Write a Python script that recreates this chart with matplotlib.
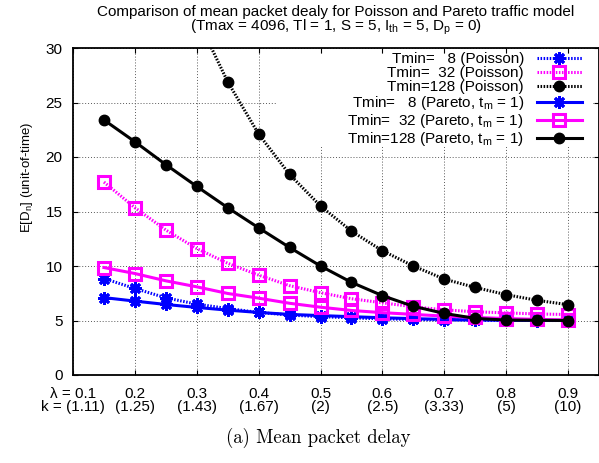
import matplotlib
matplotlib.use("Agg")
import matplotlib.pyplot as plt
from matplotlib.patches import Rectangle

plt.rcParams['font.family'] = ['Liberation Sans', 'DejaVu Sans']
plt.rcParams['mathtext.fontset'] = 'custom'
plt.rcParams['mathtext.rm'] = 'Liberation Sans'
plt.rcParams['mathtext.it'] = 'Liberation Sans:italic'
plt.rcParams['mathtext.bf'] = 'Liberation Sans:bold'

# ---------------- data ----------------
lam = [0.15, 0.2, 0.25, 0.3, 0.35, 0.4, 0.45, 0.5, 0.55, 0.6, 0.65, 0.7, 0.75, 0.8, 0.85, 0.9]
lam_p128 = [0.3, 0.35, 0.4, 0.45, 0.5, 0.55, 0.6, 0.65, 0.7, 0.75, 0.8, 0.85, 0.9]

poisson_8 = [8.85, 7.94, 7.08, 6.5, 6.1, 5.74, 5.5, 5.35, 5.25, 5.15, 5.1, 5.05, 5.03, 5.01, 5.0, 5.0]
poisson_32 = [17.7, 15.35, 13.3, 11.6, 10.25, 9.16, 8.2, 7.55, 7.0, 6.62, 6.26, 5.98, 5.8, 5.7, 5.6, 5.55]
poisson_128 = [32.8, 26.9, 22.1, 18.4, 15.5, 13.2, 11.4, 10.0, 8.8, 8.03, 7.37, 6.85, 6.45]
pareto_8 = [7.1, 6.78, 6.47, 6.2, 5.95, 5.74, 5.56, 5.45, 5.35, 5.25, 5.17, 5.1, 5.05, 5.03, 5.01, 5.0]
pareto_32 = [9.86, 9.31, 8.64, 8.09, 7.48, 7.05, 6.58, 6.22, 5.92, 5.72, 5.56, 5.4, 5.28, 5.18, 5.1, 5.05]
pareto_128 = [23.4, 21.4, 19.3, 17.3, 15.35, 13.5, 11.7, 10.0, 8.5, 7.28, 6.3, 5.65, 5.19, 5.04, 5.02, 5.0]

xticks = [0.1, 0.2, 0.3, 0.4, 0.5, 0.6, 0.7, 0.8, 0.9]
xticklabels = ["λ = 0.1\nk = (1.11)", "0.2\n(1.25)", "0.3\n(1.43)", "0.4\n(1.67)",
               "0.5\n(2)", "0.6\n(2.5)", "0.7\n(3.33)", "0.8\n(5)", "0.9\n(10)"]
yticks = [0, 5, 10, 15, 20, 25, 30]

labels = ["Tmin=   8 (Poisson)", "Tmin=  32 (Poisson)", "Tmin=128 (Poisson)",
          "Tmin=   8 (Pareto, $\\mathrm{t_m}$ = 1)", "Tmin=  32 (Pareto, $\\mathrm{t_m}$ = 1)",
          "Tmin=128 (Pareto, $\\mathrm{t_m}$ = 1)"]

# ---------------- figure ----------------
W, H = 599, 463
FS = 11
fig = plt.figure(figsize=(W / 100, H / 100), dpi=100)
ax = fig.add_axes([73 / W, 1 - 375 / H, 526 / W, 327 / H])

BLUE = '#0000ff'
MAG = '#ff00ff'
BLK = '#000000'
dot = (0, (0.5, 0.5))
star = (8, 2, 0)

ax.plot(lam, poisson_8, color=BLUE, ls=dot, lw=2.2, marker=star, ms=9, mew=2.0, label=labels[0], zorder=3)
ax.plot(lam, poisson_32, color=MAG, ls=dot, lw=2.2, marker='s', ms=8, mew=2.2, mfc='none', label=labels[1], zorder=3)
ax.plot(lam_p128, poisson_128, color=BLK, ls=dot, lw=2.2, marker='o', ms=7.5, label=labels[2], zorder=3)
ax.plot(lam, pareto_8, color=BLUE, ls='-', lw=2.2, marker=star, ms=9, mew=2.0, label=labels[3], zorder=3)
ax.plot(lam, pareto_32, color=MAG, ls='-', lw=2.2, marker='s', ms=8, mew=2.2, mfc='none', label=labels[4], zorder=3)
ax.plot(lam, pareto_128, color=BLK, ls='-', lw=2.2, marker='o', ms=7.5, label=labels[5], zorder=3)

ax.set_xlim(0.1, 0.95)
ax.set_ylim(0, 30)
ax.set_xticks(xticks)
ax.set_xticklabels(xticklabels, fontsize=FS, linespacing=0.95)
ax.set_yticks(yticks)
ax.set_yticklabels([str(v) for v in yticks], fontsize=FS)
ax.tick_params(direction='in', top=True, right=True, length=3.6, width=0.8, color='black')
ax.tick_params(axis='x', pad=8.5)
ax.tick_params(axis='y', pad=7.5)
ax.set_axisbelow(True)
ax.grid(True, color='0.35', ls=(0, (1, 2)), lw=0.7)
for s in ax.spines.values():
    s.set_linewidth(1.3)

# opaque key area
ax.add_patch(Rectangle((0.388, 0.70), 0.60, 0.283, transform=ax.transAxes,
                       facecolor='white', edgecolor='none', zorder=1))

leg = ax.legend(loc='upper right', bbox_to_anchor=((582 - 73) / 526, (375 - 52) / 327),
                markerfirst=False, frameon=False, fontsize=FS,
                handlelength=2.95, handletextpad=0.85, labelspacing=0.0,
                borderaxespad=0.0, borderpad=0.0)

ax.set_ylabel("E[D$_\\mathrm{n}$] (unit-of-time)", fontsize=9.5)
ax.yaxis.set_label_coords(-0.072, 0.605)

fig.text(336 / W, 1 - 12 / H, "Comparison of mean packet dealy for Poisson and Pareto traffic model",
         ha='center', va='center', fontsize=FS)
fig.text(336 / W, 1 - 27.5 / H,
         "(Tmax = 4096, Tl = 1, S = 5, $\\mathrm{I_{th}}$ = 5, $\\mathrm{D_p}$ = 0)",
         ha='center', va='center', fontsize=FS)

fig.text(318 / W, 1 - 438 / H, "(a) Mean packet delay", ha='center', va='center',
         fontsize=13.5, family=['cmr10', 'DejaVu Serif'])

fig.savefig("out.png", dpi=100)
